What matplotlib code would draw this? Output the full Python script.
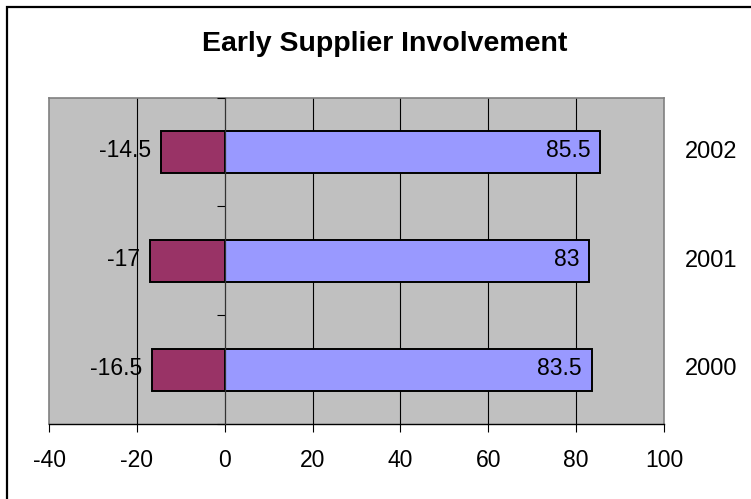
import matplotlib.pyplot as plt
import matplotlib.transforms as mtransforms
from matplotlib.patches import Rectangle

plt.rcParams['font.family'] = ['Liberation Sans', 'DejaVu Sans']

years = ['2000', '2001', '2002']
negative = [-16.5, -17, -14.5]
positive = [83.5, 83, 85.5]

x_min, x_max = -40, 100
x_ticks = [-40, -20, 0, 20, 40, 60, 80, 100]

fig = plt.figure(figsize=(7.51, 4.99), dpi=100)
ax = fig.add_axes([49 / 751, 1 - 424 / 499, 615 / 751, 326.3 / 499])
ax.set_facecolor('#C0C0C0')

# frame around the whole chart (only top and left edges fall inside the canvas)
fig.patches.append(Rectangle((7 / 751, -0.1), 1.2, 1.1 - 7 / 499,
                             transform=fig.transFigure, fill=False,
                             edgecolor='black', linewidth=1.6, clip_on=False))

ax.set_xlim(x_min, x_max)
ax.set_ylim(-0.5, len(years) - 0.5)

for gx in [-20, 20, 40, 60, 80]:
    ax.axvline(gx, color='black', linewidth=0.8, zorder=1)

pos = list(range(len(years)))
h = 1 / 2.6
ax.barh(pos, negative, height=h, color='#993366', edgecolor='black',
        linewidth=1.4, zorder=3)
ax.barh(pos, positive, height=h, color='#9999FF', edgecolor='black',
        linewidth=1.4, zorder=3)

for y, v in zip(pos, negative):
    ax.annotate(f'{v:g}', (v, y), xytext=(-7, 1), textcoords='offset points',
                ha='right', va='center', fontsize=16.5, zorder=4)
for y, v in zip(pos, positive):
    ax.annotate(f'{v:g}', (v, y), xytext=(-7, 1), textcoords='offset points',
                ha='right', va='center', fontsize=16.5, zorder=4)

# category labels sit to the right of the plot area
ax.set_yticks(pos)
ax.set_yticklabels(years, fontsize=17)
ax.yaxis.tick_right()
ax.tick_params(axis='y', length=0, pad=15)
nudge = mtransforms.ScaledTranslation(0, 2 / 72, fig.dpi_scale_trans)
for lbl in ax.get_yticklabels():
    lbl.set_transform(lbl.get_transform() + nudge)

ax.set_xticks(x_ticks)
ax.set_xticklabels([f'{t}' for t in x_ticks], fontsize=16.5)
ax.tick_params(axis='x', direction='out', length=6, width=0.8, color='black', pad=12)

for side in ['left', 'top', 'right']:
    ax.spines[side].set_color('#808080')
    ax.spines[side].set_linewidth(1.2)
ax.spines['bottom'].set_color('black')
ax.spines['bottom'].set_linewidth(1.0)

# category axis drawn at x = 0 with ticks between categories
zero_frac = (0 - x_min) / (x_max - x_min)
sec = ax.secondary_yaxis(zero_frac)
sec.set_yticks([p - 0.5 for p in pos] + [pos[-1] + 0.5])
sec.set_yticklabels([])
sec.tick_params(direction='out', length=6, width=0.8, color='black')
sec.spines['left'].set_color('#333333')
sec.spines['left'].set_linewidth(0.9)
sec.set_zorder(5)

fig.text(385 / 751, 1 - 44 / 499, 'Early Supplier Involvement', ha='center', va='center',
         fontsize=20.5, fontweight='bold')

fig.savefig('out.png', dpi=100)
